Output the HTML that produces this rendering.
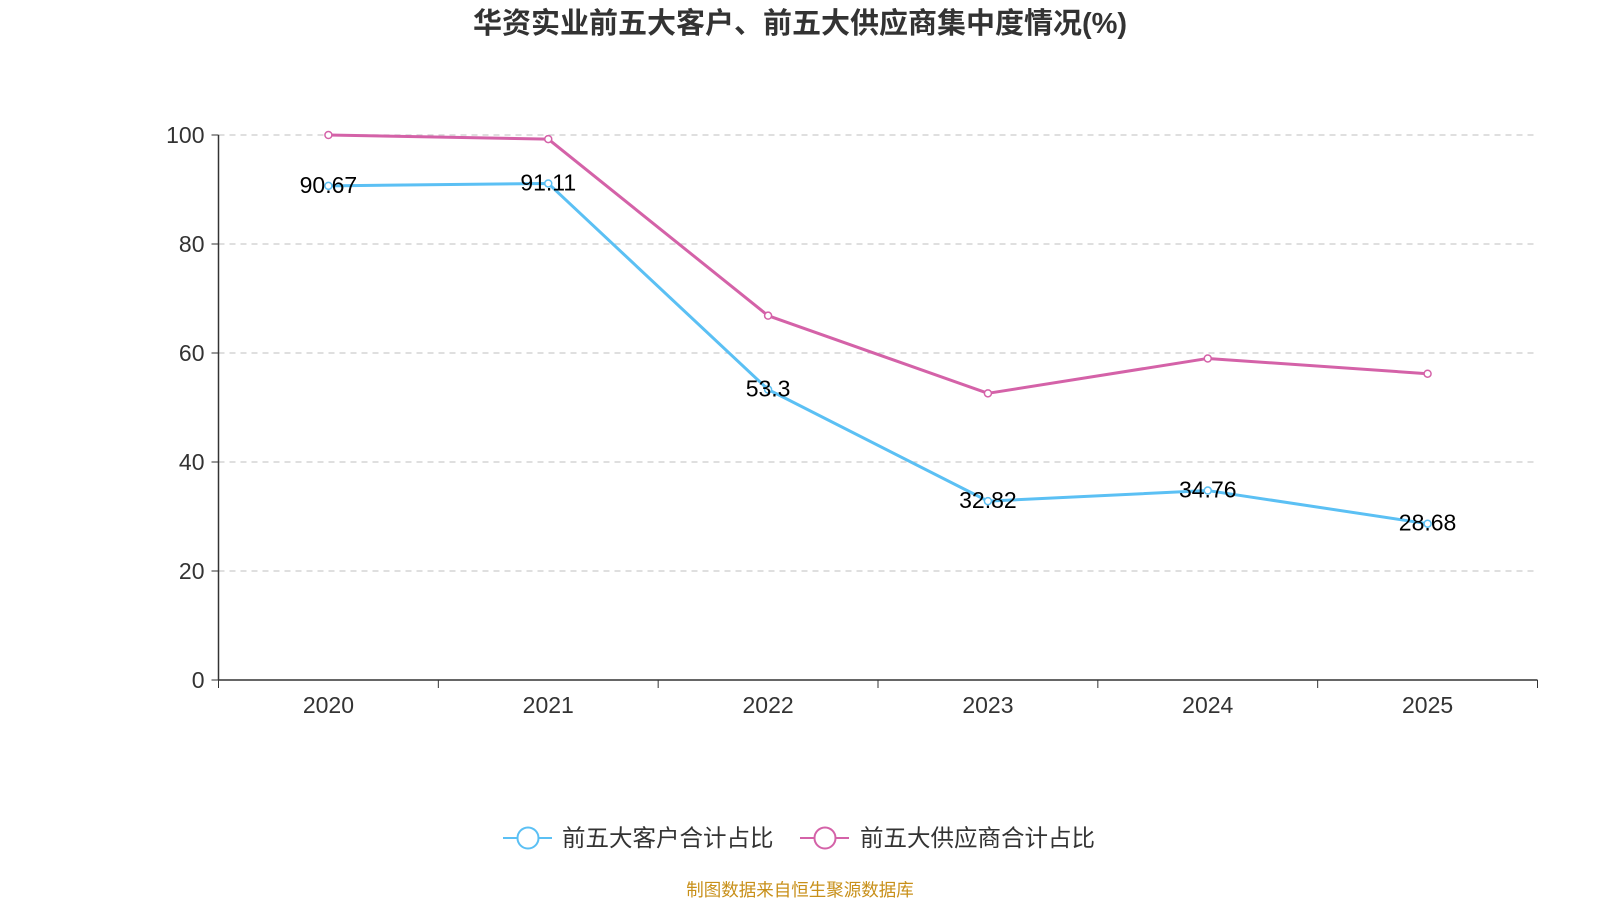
<!DOCTYPE html>
<html><head><meta charset="utf-8">
<style>
html,body{margin:0;padding:0;background:#fff;}
body{width:1600px;height:900px;overflow:hidden;font-family:"Liberation Sans","Noto Sans CJK SC",sans-serif;}
</style></head>
<body>
<svg id="chart" width="1600" height="900" xmlns="http://www.w3.org/2000/svg" font-family="Liberation Sans, Noto Sans CJK SC, sans-serif">
<text x="800" y="33" text-anchor="middle" font-size="29" font-weight="bold" fill="#333">华资实业前五大客户、前五大供应商集中度情况(%)</text>
<g id="grid"></g><g id="axes"></g><g id="series"></g>
<g>
<g>
<line x1="503" y1="838" x2="552" y2="838" stroke="#5bc0f4" stroke-width="2"/>
<circle cx="528" cy="838" r="10.5" fill="#fff" stroke="#5bc0f4" stroke-width="2"/>
<text x="562" y="846" font-size="23.5" fill="#333">前五大客户合计占比</text></g>
<g>
<line x1="800" y1="838" x2="849" y2="838" stroke="#d462a8" stroke-width="2"/>
<circle cx="825" cy="838" r="10.5" fill="#fff" stroke="#d462a8" stroke-width="2"/>
<text x="860" y="846" font-size="23.5" fill="#333">前五大供应商合计占比</text></g>
</g>
<text x="800" y="896" text-anchor="middle" font-size="17.5" fill="#c8901a">制图数据来自恒生聚源数据库</text>
</svg>
<script>
const categories=["2020","2021","2022","2023","2024","2025"];
const customerValues=[90.67,91.11,53.3,32.82,34.76,28.68];
const supplierValues=[100,99.25,66.85,52.6,59.0,56.2];
const yTicks=[0,20,40,60,80,100];
const NS="http://www.w3.org/2000/svg";
const x0=218.5,x1=1537.5,y0=680,y1=135,yMax=100;
const band=(x1-x0)/categories.length;
const xPos=i=>x0+band*(i+0.5);
const yPos=v=>y0-(v/yMax)*(y0-y1);
function mk(tag,attrs,parent,txt){const e=document.createElementNS(NS,tag);for(const k in attrs)e.setAttribute(k,attrs[k]);if(txt!==undefined)e.textContent=txt;document.getElementById(parent).appendChild(e);return e;}
yTicks.forEach(t=>{
 const y=yPos(t);
 if(t>0){const g=mk('line',{x1:x0,x2:x1,y1:y,y2:y,stroke:'#ccc','stroke-dasharray':'6,5','stroke-width':1.3},'grid');
 
 }
 const tk=mk('line',{x1:x0-7,x2:x0,y1:y,y2:y,stroke:'#333'},'axes');
 
 
 const lb=mk('text',{x:x0-14,y:y+8,'text-anchor':'end','font-size':'23',fill:'#333'},'axes',t);
 
 
});
const ya=mk('line',{x1:x0,x2:x0,y1:y1,y2:y0,stroke:'#333','stroke-width':1.5},'axes');


const xa=mk('line',{x1:x0,x2:x1,y1:y0,y2:y0,stroke:'#333','stroke-width':1.5},'axes');


for(let i=0;i<=categories.length;i++){const x=x0+band*i;const t=mk('line',{x1:x,x2:x,y1:y0,y2:y0+8,stroke:'#333'},'axes');

}
categories.forEach((c,i)=>{const l=mk('text',{x:xPos(i),y:y0+33,'text-anchor':'middle','font-size':'23',fill:'#333'},'axes',c);

});
function series(vals,color,name,labels){
 const pts=vals.map((v,i)=>xPos(i)+','+yPos(v)).join(' ');
 const pl=mk('polyline',{points:pts,fill:'none',stroke:color,'stroke-width':3,'stroke-linejoin':'round'},'series');
 
 
 vals.forEach((v,i)=>{
  const c=mk('circle',{cx:xPos(i),cy:yPos(v),r:3.5,fill:'#fff',stroke:color,'stroke-width':1.5},'series');
  
  
  if(labels){const t=mk('text',{x:xPos(i),y:yPos(v)+7,'text-anchor':'middle','font-size':'23',fill:'#000'},'series',String(v));
  
  }
 });
}
series(supplierValues,'#d462a8','suppliers',false);
series(customerValues,'#5bc0f4','customers',true);
</script>
</body></html>
